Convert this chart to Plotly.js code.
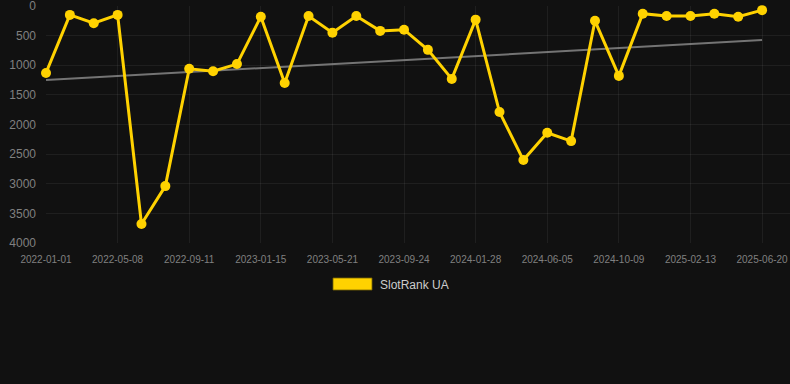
<!DOCTYPE html>
<html>
<head>
<meta charset="utf-8">
<script src="https://cdn.plot.ly/plotly-3.0.1.min.js"></script>
<style>
html,body{margin:0;padding:0;background:#111111;}
#chart{width:790px;height:384px;}
</style>
</head>
<body>
<div id="chart"></div>
<script>
// Dates of the samples (category axis)
const dates = [
  "2022-01-01","2022-02-12","2022-03-26","2022-05-08","2022-06-19","2022-07-31",
  "2022-09-11","2022-10-23","2022-12-04","2023-01-15","2023-02-26","2023-04-09",
  "2023-05-21","2023-07-02","2023-08-13","2023-09-24","2023-11-05","2023-12-17",
  "2024-01-28","2024-03-10","2024-04-23","2024-06-05","2024-07-17","2024-08-28",
  "2024-10-09","2024-11-20","2025-01-01","2025-02-13","2025-03-27","2025-05-08",
  "2025-06-20"
];
// SlotRank UA rank values
const rankUA = [
  1130, 150, 290, 150, 3680, 3040,
  1060, 1100, 980, 180, 1300, 170,
  450, 170, 420, 400, 740, 1230,
  230, 1790, 2600, 2140, 2280, 250,
  1180, 130, 170, 170, 130, 180,
  70
];
// Trend line values at first and last date
const trendDates = ["2022-01-01", "2025-06-20"];
const trendValues = [1250, 575];

// Tick labels shown on x axis
const xTickLabels = [
  "2022-01-01","2022-05-08","2022-09-11","2023-01-15","2023-05-21","2023-09-24",
  "2024-01-28","2024-06-05","2024-10-09","2025-02-13","2025-06-20"
];
const yTicks = [0, 500, 1000, 1500, 2000, 2500, 3000, 3500, 4000];
const seriesName = "SlotRank UA";

const gold = "rgb(255,210,0)";

const traces = [
  {
    x: trendDates, y: trendValues, type: "scatter", mode: "lines",
    line: {color: "rgba(150,150,150,0.75)", width: 2},
    hoverinfo: "skip", showlegend: false, cliponaxis: false
  },
  {
    x: dates, y: rankUA, type: "scatter", mode: "lines+markers",
    name: seriesName,
    line: {color: gold, width: 3},
    marker: {color: gold, size: 10},
    showlegend: false, cliponaxis: false
  }
];

const gridColor = "rgba(255,255,255,0.06)";
const layout = {
  width: 790, height: 384,
  paper_bgcolor: "#111111", plot_bgcolor: "#111111",
  margin: {l: 46, r: 0, t: 6, b: 141},
  showlegend: false,
  font: {family: "Liberation Sans, Arial, sans-serif", color: "#888888"},
  xaxis: {
    type: "category",
    categoryorder: "array", categoryarray: dates,
    range: [0, 31.17],
    tickvals: xTickLabels, ticktext: xTickLabels,
    showgrid: true, gridcolor: gridColor, gridwidth: 1,
    zeroline: false, showline: false, ticks: "",
    tickfont: {size: 10, color: "#808080"},
    ticklabelstandoff: 9
  },
  yaxis: {
    range: [4000, 0],
    tickvals: yTicks,
    showgrid: true, gridcolor: gridColor, gridwidth: 1,
    zeroline: false, showline: false, ticks: "",
    tickfont: {size: 12, color: "#808080"},
    ticklabelstandoff: 9,
    ticklabeloverflow: "allow"
  },
  shapes: [
    {type: "rect", xref: "paper", yref: "paper",
     x0: (333 - 46) / 744, x1: (372 - 46) / 744,
     y0: (243 - 290) / 237, y1: (243 - 278) / 237,
     fillcolor: gold, line: {color: "rgba(120,100,0,0.8)", width: 1}}
  ],
  annotations: [
    {text: seriesName, xref: "paper", yref: "paper",
     x: (378 - 46) / 744, y: (243 - 284.5) / 237,
     xanchor: "left", yanchor: "middle", showarrow: false,
     font: {size: 12, color: "#cccccc"}}
  ]
};

Plotly.newPlot("chart", traces, layout, {displayModeBar: false, staticPlot: true});
</script>
</body>
</html>
